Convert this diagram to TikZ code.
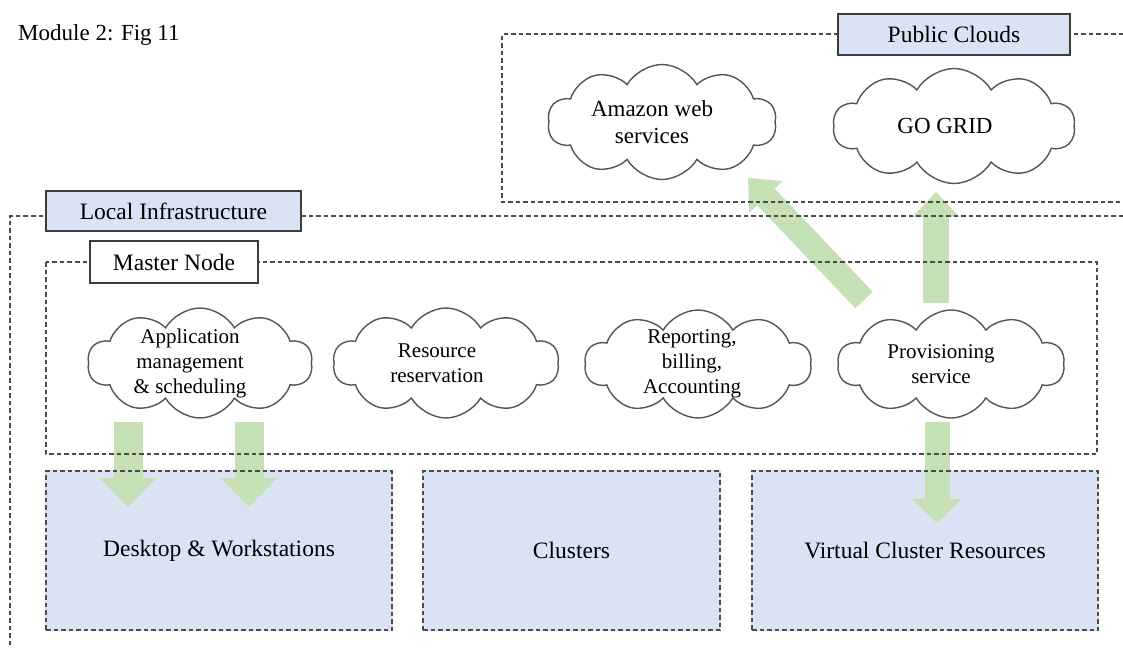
\documentclass[tikz,border=0pt]{standalone}
\usepackage{fontspec}
\setmainfont{Liberation Serif}
\usetikzlibrary{shapes.symbols,arrows.meta}
\definecolor{boxblue}{RGB}{218,227,243}
\definecolor{agreen}{RGB}{197,224,180}
\definecolor{dline}{RGB}{75,75,75}
\definecolor{lborder}{RGB}{60,60,60}
\definecolor{cline}{RGB}{85,85,85}
\pgfdeclarelayer{background}
\pgfdeclarelayer{arrowlayer}
\pgfsetlayers{background,arrowlayer,main}
\begin{document}
\begin{tikzpicture}[x=1pt,y=-1pt,
  frame/.style={draw=dline, line width=1.5pt, dash pattern=on 4.5pt off 3pt},
  labelbox/.style={draw=lborder, line width=1.9pt, fill=boxblue, minimum height=40pt, inner sep=0pt, font=\fontsize{23.5}{27}\selectfont},
  whitebox/.style={labelbox, fill=white},
  resbox/.style={frame, minimum height=159pt, inner sep=0pt, font=\fontsize{23.5}{27}\selectfont},
  cloudshape/.style={cloud, cloud puffs=10, cloud puff arc=120, cloud ignores aspect, draw=cline, line width=1.4pt, fill=white, inner sep=0pt},
  cloudtext/.style={align=center, inner sep=0pt, font=\fontsize{21}{25}\selectfont},
  bigcloudtext/.style={align=center, inner sep=0pt, font=\fontsize{23}{27}\selectfont},
  fat/.style n args={3}{draw=agreen, line width=#1pt, -{Triangle[width=#2pt,length=#3pt,line width=0pt]}},
]
\useasboundingbox (0,0) rectangle (1123,648);

% title
\node[anchor=base west, inner sep=0pt, font=\fontsize{23}{27}\selectfont] (title) at (18,40) {Module 2: Fig 11};

% frames
\draw[frame] (1123,216) -| (10,648);
\draw[frame] (1123,34) -| (502,202) -- (1123,202);
\draw[frame] (46,262) rectangle (1097,454);

% label boxes
\node[labelbox, minimum width=232pt, minimum height=41pt] (pub) at (954,34.5) {Public Clouds};
\node[labelbox, minimum width=255pt] (loc) at (173.5,211) {Local Infrastructure};
\node[whitebox, minimum width=168pt, minimum height=42pt] (mas) at (174,262) {Master Node};

% resource boxes
\node[resbox, minimum width=346pt] (desk) at (219,550.5) {Desktop \& Workstations};
\node[resbox, minimum width=297pt] (clus) at (571.5,550.5) {Clusters};
\node[resbox, minimum width=346pt] (virt) at (925,550.5) {Virtual Cluster Resources};
\begin{pgfonlayer}{background}
  \fill[boxblue] (desk.north west) rectangle (desk.south east);
  \fill[boxblue] (clus.north west) rectangle (clus.south east);
  \fill[boxblue] (virt.north west) rectangle (virt.south east);
\end{pgfonlayer}

% clouds
\node[cloudshape, minimum width=229pt, minimum height=115pt] (amz) at (662,122) {};
\node[bigcloudtext] (amzt) at ([xshift=-10pt]amz.center) {Amazon web\\services};
\node[cloudshape, minimum width=242pt, minimum height=115pt] (gog) at (954,126) {};
\node[bigcloudtext] (gogt) at ([xshift=-9pt]gog.center) {GO GRID};
\node[cloudshape, minimum width=225pt, minimum height=110pt] (app) at (200,363) {};
\node[cloudtext] (appt) at ([xshift=-10pt]app.center) {Application\\management\\\& scheduling};
\node[cloudshape, minimum width=226pt, minimum height=110pt] (res) at (446,363) {};
\node[cloudtext] (rest) at ([xshift=-9pt]res.center) {Resource\\reservation};
\node[cloudshape, minimum width=227pt, minimum height=108pt] (rep) at (698,364) {};
\node[cloudtext] (rept) at ([xshift=-6pt]rep.center) {Reporting,\\billing,\\Accounting};
\node[cloudshape, minimum width=227pt, minimum height=108pt] (prov) at (951,364) {};
\node[cloudtext] (provt) at ([xshift=-10pt]prov.center) {Provisioning\\service};

% arrows
\coordinate (a1s) at (128,422); \coordinate (a1e) at (128,507);
\coordinate (a2s) at (249,422); \coordinate (a2e) at (249,507);
\coordinate (a3s) at (937,422); \coordinate (a3e) at (937,523);
\coordinate (a4s) at (936,303); \coordinate (a4e) at (936,192);
\coordinate (a5s) at (864,300); \coordinate (a5e) at (748,178);
\begin{pgfonlayer}{arrowlayer}
  \draw[fat={29}{57}{29}] (a1s) -- (a1e);
  \draw[fat={29}{57}{29}] (a2s) -- (a2e);
  \draw[fat={25}{50}{24}] (a3s) -- (a3e);
  \draw[fat={26}{47}{25}] (a4s) -- (a4e);
  \draw[fat={24}{46}{26}] (a5s) -- (a5e);
\end{pgfonlayer}
\end{tikzpicture}
\end{document}
